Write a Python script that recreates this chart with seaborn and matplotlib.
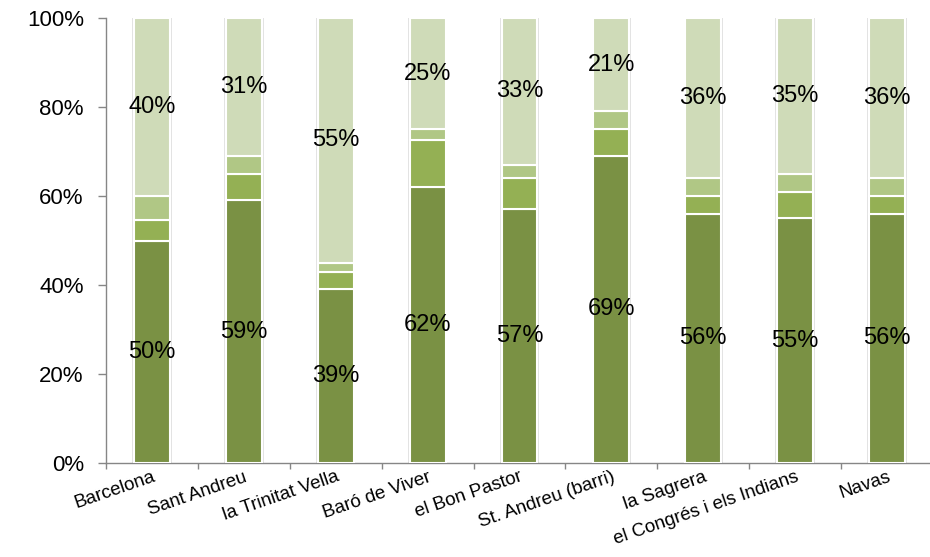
import matplotlib
matplotlib.use("Agg")
import matplotlib.pyplot as plt
import seaborn as sns
import numpy as np
import pandas as pd

categories = ["Barcelona", "Sant Andreu", "la Trinitat Vella", "Baró de Viver",
              "el Bon Pastor", "St. Andreu (barri)", "la Sagrera",
              "el Congrés i els Indians", "Navas"]
seg1 = [50, 59, 39, 62, 57, 69, 56, 55, 56]
seg2 = [4.5, 6, 4, 10.5, 7, 6, 4, 6, 4]
seg3 = [5.5, 4, 2, 2.5, 3, 4, 4, 4, 4]
seg4 = [40, 31, 55, 25, 33, 21, 36, 35, 36]
ytick_labels = ["0%", "20%", "40%", "60%", "80%", "100%"]

colors = ["#7A9144", "#94B054", "#B0C785", "#CFDBB8"]

sns.set_theme(style="white")
plt.rcParams['font.family'] = ['Liberation Sans', 'DejaVu Sans']
plt.rcParams['xtick.color'] = 'black'
plt.rcParams['ytick.color'] = 'black'
plt.rcParams['text.color'] = 'black'

df = pd.DataFrame({"cat": categories, "s1": seg1, "s2": seg2, "s3": seg3, "s4": seg4})
df["total"] = df[["s1", "s2", "s3", "s4"]].sum(axis=1)

fig = plt.figure(figsize=(9.3, 5.57), dpi=100)
ax = fig.add_axes([106/930, 1-463/557, 827/930, 445/557])

# faint shadow behind the bars
sns.barplot(data=df, x="cat", y="total", color="#E2E2E2", width=0.43,
            saturation=1, linewidth=0, ax=ax, zorder=2)

bottom = np.zeros(len(categories))
for col, c in zip(["s1", "s2", "s3", "s4"], colors):
    sns.barplot(data=df, x="cat", y=col, color=c, width=0.39, bottom=bottom,
                edgecolor="white", linewidth=1.5, saturation=1, ax=ax, zorder=3)
    bottom = bottom + df[col].values

# labels for bottom and top segments
for i in range(len(categories)):
    ax.text(i, seg1[i] / 2, f"{seg1[i]}%", ha="center", va="center", fontsize=17, color="black", zorder=5)
    top_base = seg1[i] + seg2[i] + seg3[i]
    ax.text(i, top_base + seg4[i] / 2, f"{seg4[i]}%", ha="center", va="center", fontsize=17, color="black", zorder=5)

ax.set_xlim(-0.5, len(categories) - 0.5)
ax.set_ylim(0, 100)
ax.set_yticks([0, 20, 40, 60, 80, 100])
ax.set_yticklabels(ytick_labels, fontsize=16)
ax.set_xticks(range(len(categories)))
ax.set_xticklabels(categories, rotation=19, ha="right", va="top", rotation_mode="anchor", fontsize=13.5)
ax.set_xticks(np.arange(-0.5, len(categories)), minor=True)
ax.tick_params(axis="x", which="major", length=0, pad=4, labelcolor="black")
ax.tick_params(axis="x", which="minor", length=4, color="#868686", width=1, direction="out", bottom=True)
ax.tick_params(axis="y", length=6, color="#868686", width=1, direction="out", left=True, pad=10, labelcolor="black")
ax.set_xlabel("")
ax.set_ylabel("")
for s in ["top", "right"]:
    ax.spines[s].set_visible(False)
for s in ["left", "bottom"]:
    ax.spines[s].set_color("#868686")
    ax.spines[s].set_linewidth(1)

fig.savefig("out.png", dpi=100)
